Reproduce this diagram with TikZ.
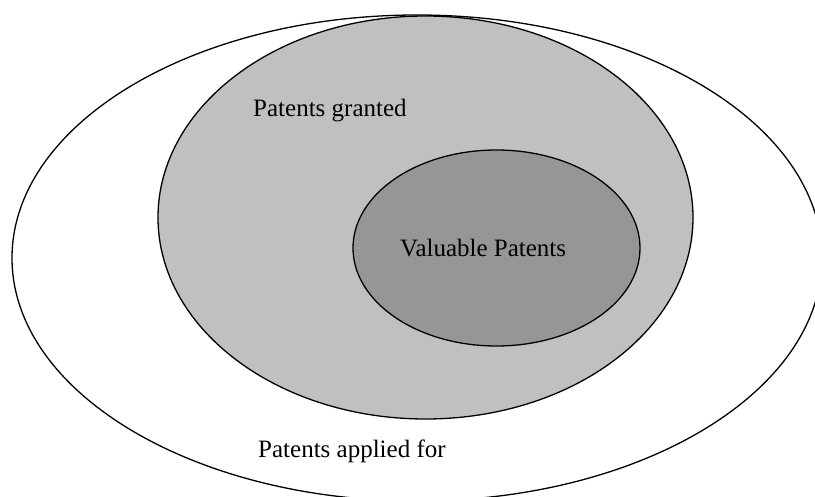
\documentclass[tikz,border=0pt]{standalone}
\usepackage{fontspec}
\setmainfont{Liberation Serif}
\definecolor{grantfill}{RGB}{192,192,192}
\definecolor{valfill}{RGB}{150,150,150}
\tikzset{
  ell/.style={draw=black, line width=1.3pt},
  lbl/.style={anchor=base west, inner sep=0pt, font=\fontsize{25}{30}\selectfont},
}
\begin{document}
\begin{tikzpicture}[x=1pt,y=-1pt]
\useasboundingbox (0,0) rectangle (815,497);
\clip (0,0) rectangle (815,497);
\draw[ell, fill=white] (417,258) ellipse [x radius=405, y radius=243];
\draw[ell, fill=grantfill] (425.5,217.5) ellipse [x radius=267.5, y radius=201.5];
\draw[ell, fill=valfill] (496.5,248) ellipse [x radius=143.5, y radius=98];
\node[lbl] (granted) at (253,117) {Patents granted};
\node[lbl] (valuable) at (400,257) {Valuable Patents};
\node[lbl] (applied) at (258,457) {Patents applied for};
\end{tikzpicture}
\end{document}
